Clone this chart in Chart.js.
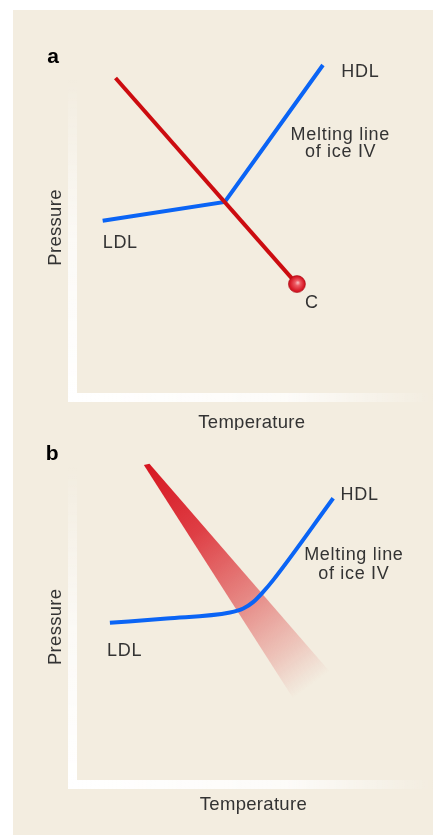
<!DOCTYPE html>
<html>
<head>
<meta charset="utf-8">
<script src="https://cdn.jsdelivr.net/npm/chart.js@4/dist/chart.umd.min.js"></script>
<style>
  html, body { margin: 0; padding: 0; background: #fff; }
  #page { position: relative; width: 433px; height: 835px; overflow: hidden; }
  #panel { position: absolute; left: 13px; top: 10px; width: 420px; height: 825px; background: #F3EDE0; }
  canvas { position: absolute; left: 0; }
  #chartA { top: 0; }
  #chartB { top: 430px; }
</style>
</head>
<body>
<div id="page">
  <div id="panel"></div>
  <canvas id="chartA" width="433" height="430"></canvas>
  <canvas id="chartB" width="433" height="405"></canvas>
</div>
<script>
'use strict';

// panel a: first order transition line ending in critical point C, melting line of ice IV
const liqLineT = [11.1, 63.4];
const liqLineP = [94.6, 32.7];
const critPointT = [63.4];
const critPointP = [32.7];
const meltA_T = [7.4, 42.6, 70.9];
const meltA_P = [51.7, 57.4, 98.5];

// panel b: smeared band instead of a line, smooth melting line
const bandT = [19.1, 20.7, 72.3, 61.7];
const bandP = [94.6, 95.0, 32.4, 24.6];
const meltB_T = [9.4, 25.6, 43.7, 47.5, 50.4, 53.2, 56.1, 73.2];
const meltB_P = [47.2, 48.5, 50.3, 51.5, 53.5, 56.5, 60.1, 84.6];

const axisTitleX = 'Temperature';
const axisTitleY = 'Pressure';

// text labels, placed in temperature/pressure units
const labelsA = [
  {text: 'a', t: -8.6, p: 99.1, align: 'left', bold: true},
  {text: 'HDL', t: 76.2, p: 94.9, align: 'left'},
  {text: 'Melting line', t: 75.9, p: 76.0, align: 'center'},
  {text: 'of ice IV', t: 76.0, p: 70.9, align: 'center'},
  {text: 'LDL', t: 7.4, p: 43.5, align: 'left'},
  {text: 'C', t: 65.7, p: 25.5, align: 'left'}
];
const labelsB = [
  {text: 'b', t: -8.9, p: 96.1, align: 'left', bold: true},
  {text: 'HDL', t: 75.3, p: 84.1, align: 'left'},
  {text: 'Melting line', t: 79.1, p: 66.1, align: 'center'},
  {text: 'of ice IV', t: 79.1, p: 60.4, align: 'center'},
  {text: 'LDL', t: 8.6, p: 37.2, align: 'left'}
];
const axisTitlePosA = {t: 50.4, p: -10.5, yt: -4.6, yp: 49.7};
const axisTitlePosB = {t: 50.4, p: -9.0, yt: -4.6, yp: 46.0};

const RED = '#CC0C10';
const BLUE = '#0A64F5';
const TEXT = '#333333';
const FONT = '"Liberation Sans", Arial, sans-serif';

function pts(xs, ys) {
  return xs.map((x, i) => ({x: x, y: ys[i]}));
}

// white axis bars that fade out
const axisBars = {
  id: 'axisBars',
  beforeDatasetsDraw(chart) {
    const {ctx, chartArea: a, width} = chart;
    const left = a.left - 9, bottom = a.bottom + 9, top = a.top + 20;
    ctx.save();
    let g = ctx.createLinearGradient(0, top, 0, bottom);
    g.addColorStop(0, 'rgba(255,255,255,0)');
    g.addColorStop(0.5, 'rgba(255,255,255,0.7)');
    g.addColorStop(1, 'rgba(255,255,255,1)');
    ctx.fillStyle = g;
    ctx.fillRect(left, top, 9, bottom - top - 9);
    g = ctx.createLinearGradient(left, 0, width, 0);
    g.addColorStop(0, 'rgba(255,255,255,1)');
    g.addColorStop(0.6, 'rgba(255,255,255,0.8)');
    g.addColorStop(1, 'rgba(255,255,255,0)');
    ctx.fillStyle = g;
    ctx.fillRect(left, bottom - 9, width - left, 9);
    ctx.restore();
  }
};

// axis titles and annotations
const textLabels = {
  id: 'textLabels',
  afterDatasetsDraw(chart, args, opts) {
    const {ctx, scales: {x, y}} = chart;
    ctx.save();
    ctx.fillStyle = TEXT;
    ctx.textBaseline = 'alphabetic';
    opts.items.forEach(l => {
      ctx.fillStyle = l.bold ? '#000' : TEXT;
      ctx.font = l.bold ? '900 21px ' + FONT : '18px ' + FONT;
      ctx.letterSpacing = l.bold ? '0px' : '0.7px';
      ctx.textAlign = l.align;
      ctx.fillText(l.text, x.getPixelForValue(l.t), y.getPixelForValue(l.p));
    });
    const ap = opts.axisPos;
    ctx.fillStyle = TEXT;
    ctx.font = '18.5px ' + FONT;
    ctx.letterSpacing = '0.3px';
    ctx.textAlign = 'center';
    ctx.fillText(axisTitleX, x.getPixelForValue(ap.t), y.getPixelForValue(ap.p));
    ctx.translate(x.getPixelForValue(ap.yt), y.getPixelForValue(ap.yp));
    ctx.rotate(-Math.PI / 2);
    ctx.fillText(axisTitleY, 0, 0);
    ctx.restore();
  }
};

function baseOptions(padding, items, axisPos) {
  return {
    responsive: false,
    animation: false,
    events: [],
    layout: {padding: padding},
    scales: {
      x: {type: 'linear', min: 0, max: 100, display: false},
      y: {type: 'linear', min: 0, max: 100, display: false}
    },
    plugins: {
      legend: {display: false},
      tooltip: {enabled: false},
      textLabels: {items: items, axisPos: axisPos}
    }
  };
}

function ballColor(c) {
  const chart = c.chart;
  if (!chart.chartArea || !c.parsed) return RED;
  const px = chart.scales.x.getPixelForValue(c.parsed.x);
  const py = chart.scales.y.getPixelForValue(c.parsed.y);
  const g = chart.ctx.createRadialGradient(px + 1, py - 1.5, 0, px, py, 9);
  g.addColorStop(0, '#F8C4C6');
  g.addColorStop(0.3, '#EC5A63');
  g.addColorStop(0.75, '#DA1E2B');
  g.addColorStop(1, '#BC0E1A');
  return g;
}

function bandColor(c) {
  const chart = c.chart;
  if (!chart.chartArea) return 'rgba(215,25,35,0.5)';
  const x = chart.scales.x, y = chart.scales.y;
  const x0 = x.getPixelForValue((bandT[0] + bandT[1]) / 2);
  const y0 = y.getPixelForValue((bandP[0] + bandP[1]) / 2);
  const x1 = x.getPixelForValue((bandT[2] + bandT[3]) / 2);
  const y1 = y.getPixelForValue((bandP[2] + bandP[3]) / 2);
  const g = chart.ctx.createLinearGradient(x0, y0, x1, y1);
  g.addColorStop(0, 'rgba(214,22,32,1)');
  g.addColorStop(0.3, 'rgba(218,30,40,0.85)');
  g.addColorStop(0.6, 'rgba(218,40,45,0.52)');
  g.addColorStop(0.85, 'rgba(218,60,60,0.22)');
  g.addColorStop(1, 'rgba(218,80,80,0)');
  return g;
}

const chartA = new Chart(document.getElementById('chartA'), {
  type: 'line',
  data: {
    datasets: [
      {
        data: pts(liqLineT, liqLineP), order: 1,
        borderColor: RED, borderWidth: 4, pointRadius: 0, fill: false
      },
      {
        data: pts(meltA_T, meltA_P), order: 2,
        borderColor: BLUE, borderWidth: 4, pointRadius: 0, fill: false,
        borderJoinStyle: 'miter'
      },
      {
        data: pts(critPointT, critPointP), order: 0,
        showLine: false, pointRadius: 8.5, pointBorderWidth: 0.6,
        pointBorderColor: '#B00A14', pointBackgroundColor: ballColor
      }
    ]
  },
  options: baseOptions({left: 77, right: 6, top: 60, bottom: 37}, labelsA, axisTitlePosA),
  plugins: [axisBars, textLabels]
});

const chartB = new Chart(document.getElementById('chartB'), {
  type: 'line',
  data: {
    datasets: [
      {
        data: pts(bandT, bandP), order: 2,
        borderWidth: 0, pointRadius: 0, fill: 'shape',
        backgroundColor: bandColor
      },
      {
        data: pts(meltB_T, meltB_P), order: 1,
        borderColor: BLUE, borderWidth: 4, pointRadius: 0, fill: false,
        cubicInterpolationMode: 'monotone'
      }
    ]
  },
  options: baseOptions({left: 77, right: 6, top: 17, bottom: 55}, labelsB, axisTitlePosB),
  plugins: [axisBars, textLabels]
});
</script>
</body>
</html>
